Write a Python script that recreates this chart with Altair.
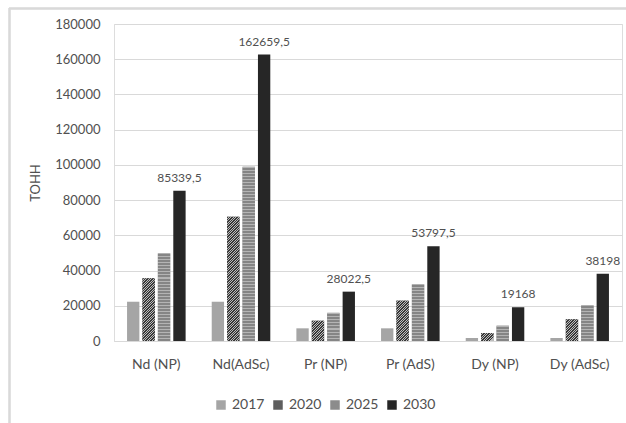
import altair as alt
import pandas as pd

# Source values (tonnes) per material/scenario and year
categories = ["Nd (NP)", "Nd(AdSc)", "Pr (NP)", "Pr (AdS)", "Dy (NP)", "Dy (AdSc)"]
years = ["2017", "2020", "2025", "2030"]
v2017 = [22300, 22300, 7200, 7200, 1700, 1700]
v2020 = [35600, 70600, 11500, 22900, 4500, 12300]
v2025 = [49800, 99000, 16000, 32200, 8700, 20300]
v2030 = [85339.5, 162659.5, 28022.5, 53797.5, 19168, 38198]

series = {"2017": v2017, "2020": v2020, "2025": v2025, "2030": v2030}
rows = []
for yr in years:
    for cat, val in zip(categories, series[yr]):
        rows.append({"cat": cat, "year": yr, "value": val})
df = pd.DataFrame(rows)


def fmt_label(v):
    s = ("%.1f" % v).rstrip("0").rstrip(".")
    return s.replace(".", ",")


labels = pd.DataFrame({
    "cat": categories,
    "year": ["2030"] * len(categories),
    "value": v2030,
    "label": [fmt_label(v) for v in v2030],
})

# Plot geometry
W, H = 508, 317
YMAX = 180000
FONT = "Lato"
TXT = "#505050"
GRID = "#d9d9d9"

X_PAD_IN, X_PAD_OUT = 0.29, 0.145
XO_PAD_IN, XO_PAD_OUT = 0.2, 0.05

step = W / (len(categories) - X_PAD_IN + 2 * X_PAD_OUT)
band = step * (1 - X_PAD_IN)
sub_step = band / (len(years) - XO_PAD_IN + 2 * XO_PAD_OUT)
bar_w = sub_step * (1 - XO_PAD_IN)

colors = ["#a5a5a5", "#5e5e5e", "#8c8c8c", "#262626"]

x_enc = alt.X("cat:N", sort=categories,
              scale=alt.Scale(domain=categories, paddingInner=X_PAD_IN, paddingOuter=X_PAD_OUT),
              axis=alt.Axis(title=None, labelAngle=0, labelFontSize=14, labelColor=TXT,
                            labelFont=FONT, labelPadding=16, ticks=False,
                            domainColor=GRID, domainWidth=1, grid=False))
xo_enc = alt.XOffset("year:N",
                     scale=alt.Scale(domain=years, paddingInner=XO_PAD_IN, paddingOuter=XO_PAD_OUT))
y_enc = alt.Y("value:Q", scale=alt.Scale(domain=[0, YMAX], nice=False),
              axis=alt.Axis(title="ТОНН", values=list(range(0, YMAX + 1, 20000)), format="d",
                            labelFontSize=13, labelColor=TXT, labelFont=FONT, labelPadding=14,
                            titleFontSize=13, titleColor=TXT, titleFont=FONT,
                            titleFontWeight="normal", titlePadding=12,
                            ticks=False, domain=False, gridColor=GRID, gridWidth=1))

base = alt.Chart(df).mark_bar().encode(
    x=x_enc,
    xOffset=xo_enc,
    y=y_enc,
    color=alt.Color("year:N", scale=alt.Scale(domain=years, range=colors),
                    legend=alt.Legend(title=None, orient="none", direction="horizontal",
                                      legendX=100, legendY=374, symbolType="square",
                                      symbolSize=90, symbolStrokeWidth=0,
                                      labelFontSize=14, labelColor=TXT, labelFont=FONT,
                                      labelOffset=4, columnPadding=6)),
)


def diag_gradient(h, w, dark, light, period=2.5, dark_frac=0.6):
    # 45-degree hatching: isolines X + Y = const in pixel space
    gx, gy = 1.0, h / w
    per = period * w / (w * w + h * h)
    n = int((w + h) / period) + 2
    stops = []
    for k in range(n):
        a = k * per
        b = a + dark_frac * per
        c = (k + 1) * per
        if a > 1:
            break
        stops += [alt.GradientStop(offset=min(a, 1), color=dark),
                  alt.GradientStop(offset=min(b, 1), color=dark),
                  alt.GradientStop(offset=min(b, 1), color=light),
                  alt.GradientStop(offset=min(c, 1), color=light)]
    return alt.LinearGradient(gradient="linear", stops=stops, x1=0, y1=0, x2=gx, y2=gy)


def horiz_gradient(h, dark, light, period=3.0, light_frac=0.34):
    n = max(int(round(h / period)), 1)
    per = 1.0 / n
    stops = []
    for k in range(n):
        a = k * per
        b = a + light_frac * per
        c = (k + 1) * per
        stops += [alt.GradientStop(offset=a, color=light),
                  alt.GradientStop(offset=b, color=light),
                  alt.GradientStop(offset=b, color=dark),
                  alt.GradientStop(offset=min(c, 1), color=dark)]
    return alt.LinearGradient(gradient="linear", stops=stops, x1=0, y1=0, x2=0, y2=1)


# Patterned overlays for the 2020 (diagonal) and 2025 (horizontal) bars
overlays = []
for yr in ["2020", "2025"]:
    for cat, val in zip(categories, series[yr]):
        h = val * H / YMAX
        if yr == "2020":
            fill = diag_gradient(h, bar_w, "#383838", "#bdbdbd")
        else:
            fill = horiz_gradient(h, "#858585", "#b4b4b4")
        layer = alt.Chart(df).transform_filter(
            (alt.datum.cat == cat) & (alt.datum.year == yr)
        ).mark_bar(fill=fill).encode(x=x_enc, xOffset=xo_enc, y=y_enc)
        overlays.append(layer)

text = alt.Chart(labels).mark_text(baseline="bottom", dy=-6, fontSize=12, color=TXT,
                                   font=FONT).encode(
    x=x_enc, xOffset=xo_enc, y=y_enc, text="label:N")

# Chart-area frame (top and left edges)
frame_top = alt.Chart(labels).mark_rule(color=GRID, strokeWidth=1.5).encode(
    x=alt.value(-105), x2=alt.value(W + 10), y=alt.value(-15.5))
frame_left = alt.Chart(labels).mark_rule(color=GRID, strokeWidth=1.5).encode(
    x=alt.value(-104.5), y=alt.value(-16), y2=alt.value(H + 90))

chart = alt.layer(base, *overlays, text, frame_top, frame_left).properties(
    width=W, height=H,
    autosize=alt.AutoSizeParams(type="none"),
    padding={"left": 114, "top": 24, "right": 4, "bottom": 82},
).configure_view(stroke=None).configure(background="white")

chart.save("out.html", embed_options={"renderer": "svg", "actions": False})
